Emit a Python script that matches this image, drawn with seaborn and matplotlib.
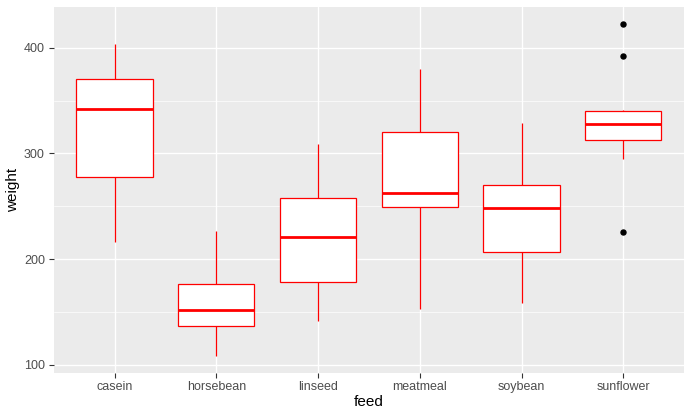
import matplotlib
matplotlib.use("Agg")
import matplotlib.pyplot as plt
import seaborn as sns
import pandas as pd
from matplotlib.ticker import MultipleLocator

feeds = ["casein", "horsebean", "linseed", "meatmeal", "soybean", "sunflower"]
casein = [368, 390, 379, 260, 404, 318, 352, 359, 216, 222, 283, 332]
horsebean = [179, 160, 136, 227, 217, 168, 108, 124, 143, 140]
linseed = [309, 229, 181, 141, 260, 203, 148, 169, 213, 257, 244, 271]
meatmeal = [325, 257, 303, 315, 380, 153, 263, 242, 206, 344, 258]
soybean = [243, 230, 248, 327, 329, 250, 193, 271, 316, 267, 199, 171, 158, 248]
sunflower = [423, 340, 392, 339, 341, 226, 320, 295, 334, 322, 297, 318]
yticks = [100, 200, 300, 400]

groups = [casein, horsebean, linseed, meatmeal, soybean, sunflower]
df = pd.DataFrame({
    "feed": [f for f, g in zip(feeds, groups) for _ in g],
    "weight": [v for g in groups for v in g],
})

sns.set_theme(style="white")
plt.rcParams["font.family"] = ["Liberation Sans", "DejaVu Sans"]

fig = plt.figure(figsize=(6.92, 4.18), dpi=100)
W, H = 692, 418
L, R, T, B = 53.5, 684.3, 7.0, 372.8
ax = fig.add_axes([L / W, (H - B) / H, (R - L) / W, (B - T) / H])
ax.set_facecolor("#EBEBEB")

sns.boxplot(
    data=df, x="feed", y="weight", order=feeds, ax=ax,
    color="white", linecolor="red", width=0.75, linewidth=0.9,
    showcaps=False,
    medianprops=dict(linewidth=2.0, color="red"),
    flierprops=dict(marker="o", markerfacecolor="black",
                    markeredgecolor="black", markersize=3.6),
    zorder=3,
)

ax.set_xlim(-0.6, 5.6)
ymin, ymax = 108, 423
pad = (ymax - ymin) * 0.05
ax.set_ylim(ymin - pad, ymax + pad)
ax.set_yticks(yticks)
ax.yaxis.set_minor_locator(MultipleLocator(50))

ax.grid(True, which="major", color="white", linewidth=1.0, zorder=0)
ax.grid(True, which="minor", axis="y", color="white", linewidth=0.5, zorder=0)
ax.set_axisbelow(True)
for s in ax.spines.values():
    s.set_visible(False)

ax.tick_params(axis="both", which="major", length=3.7, width=0.8, color="#333333",
               labelcolor="#4D4D4D", labelsize=9, pad=2.5, bottom=True, left=True)
ax.tick_params(axis="y", which="minor", length=0)
ax.set_xlabel("feed", fontsize=11, color="black", labelpad=1)
ax.set_ylabel("weight", fontsize=11, color="black", labelpad=3)

fig.savefig("out.png", dpi=100)
